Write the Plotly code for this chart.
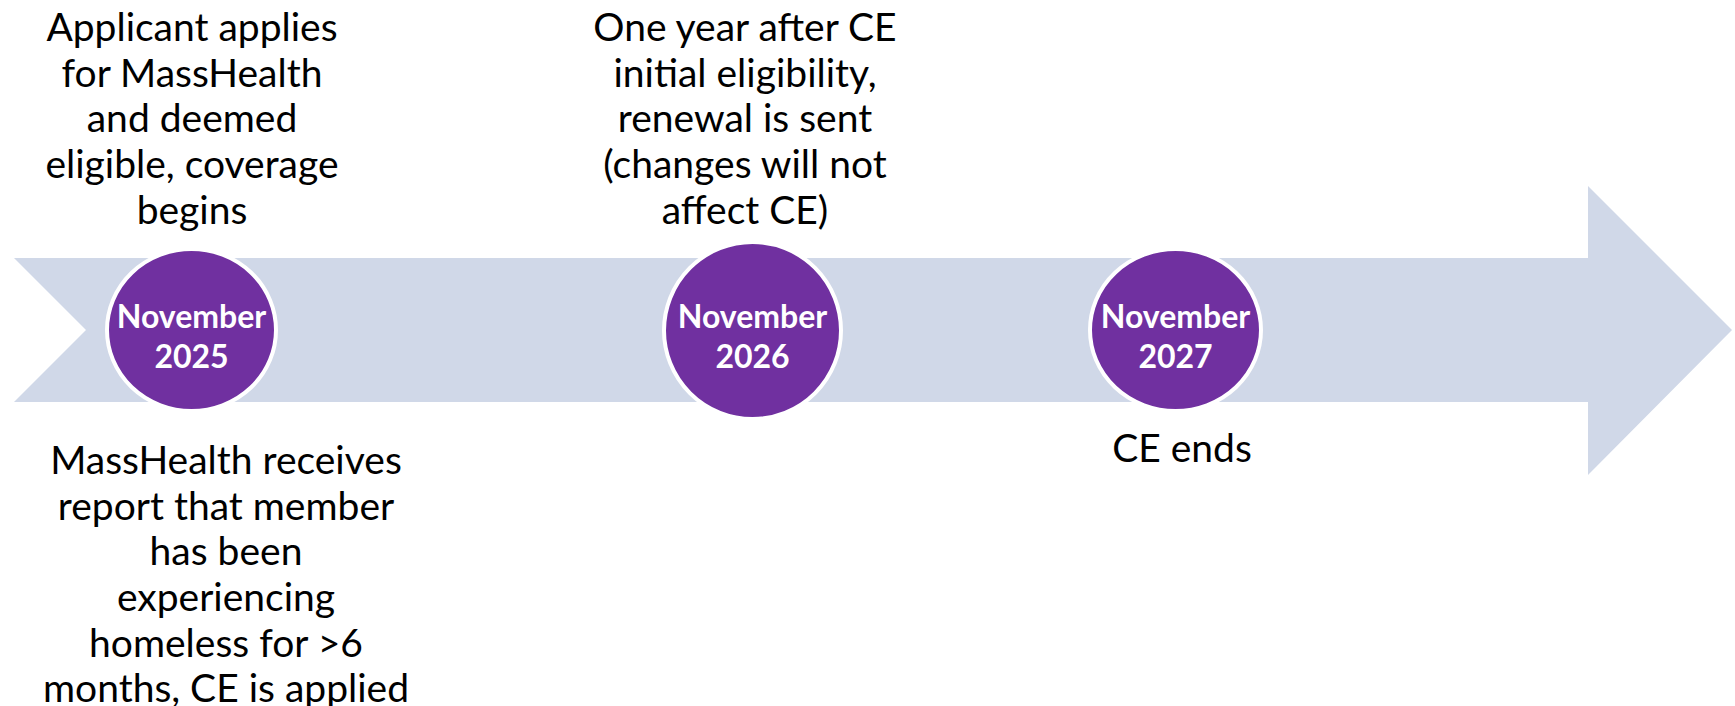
import plotly.graph_objects as go

# ---- content ----
months = ["November", "November", "November"]
years = ["2025", "2026", "2027"]
above_lines = [
    ["Applicant applies", "for MassHealth", "and deemed", "eligible, coverage", "begins"],
    ["One year after CE", "initial eligibility,", "renewal is sent", "(changes will not", "affect CE)"],
    [],
]
below_lines = [
    ["MassHealth receives", "report that member", "has been", "experiencing",
     "homeless for >6", "months, CE is applied"],
    [],
    ["CE ends"],
]

# ---- layout geometry (pixels) ----
W, H = 1735, 706
circle_boxes = [(105, 278, 247, 413), (662, 843, 240, 421), (1088, 1263, 247, 413)]
above_anchor = [(192, 39), (745, 39), None]      # x centre, first baseline
below_anchor = [(226, 472), None, (1182, 460)]
LINE_GAP = 45.7
TXT_FS = 39
CIRC_FS = 32

ARROW = "#D0D8E8"
PURPLE = "#7030A0"
FONT = "Lato"

fig = go.Figure()
fig.add_trace(go.Scatter(x=[0, W], y=[0, H], mode="markers",
                         marker=dict(opacity=0), hoverinfo="skip", showlegend=False))


def add_block(lines, x, first_baseline, fs, color, gap, bold=False):
    ys = [first_baseline + i * gap - 0.2 * fs for i in range(len(lines))]
    txt = [f"<b>{t}</b>" if bold else t for t in lines]
    fig.add_trace(go.Scatter(x=[x] * len(lines), y=ys, mode="text", text=txt,
                             textposition="middle center",
                             textfont=dict(family=FONT, size=fs, color=color),
                             hoverinfo="skip", showlegend=False))


shapes = [dict(type="path", layer="below",
               path="M14,258 L1588,258 L1588,186 L1732,330 L1588,475 L1588,402 L14,402 L86,330 Z",
               fillcolor=ARROW, line=dict(width=0))]
for i, (x0, x1, y0, y1) in enumerate(circle_boxes):
    shapes.append(dict(type="circle", layer="below", x0=x0 + 2, x1=x1 - 2, y0=y0 + 2, y1=y1 - 2,
                       fillcolor=PURPLE, line=dict(color="white", width=4)))
    add_block([months[i], years[i]], (x0 + x1) / 2, 326, CIRC_FS, "white", 40, bold=True)
    if above_lines[i] and above_anchor[i]:
        add_block(above_lines[i], above_anchor[i][0], above_anchor[i][1], TXT_FS, "black", LINE_GAP)
    if below_lines[i] and below_anchor[i]:
        add_block(below_lines[i], below_anchor[i][0], below_anchor[i][1], TXT_FS, "black", LINE_GAP)

fig.update_layout(
    width=W, height=H, margin=dict(l=0, r=0, t=0, b=0),
    paper_bgcolor="white", plot_bgcolor="white",
    xaxis=dict(range=[0, W], visible=False, fixedrange=True),
    yaxis=dict(range=[H, 0], visible=False, fixedrange=True),
    shapes=shapes, showlegend=False,
)
fig.write_html("out.html", config={"displayModeBar": False},
               post_script="document.body.style.margin='0';document.body.style.overflow='hidden';")
